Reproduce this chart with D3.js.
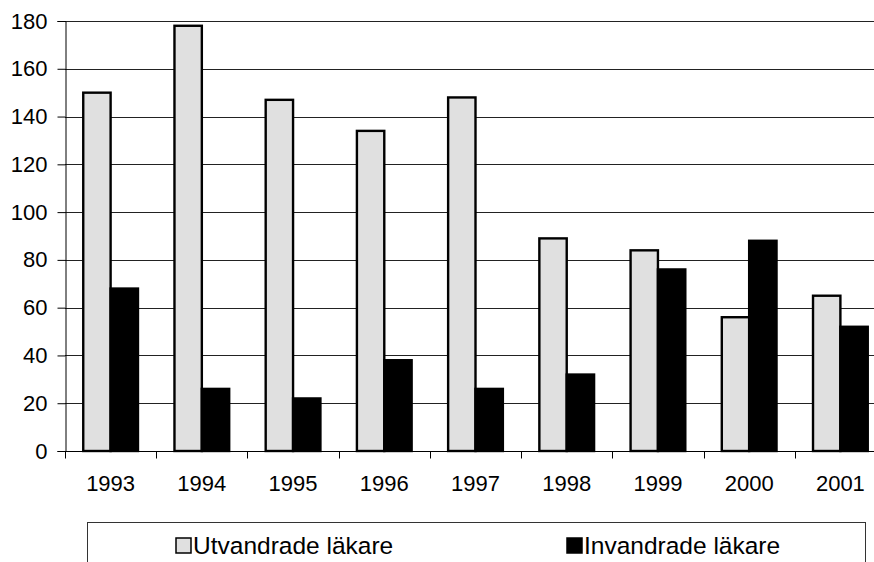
<!DOCTYPE html>
<html>
<head>
<meta charset="utf-8">
<script src="https://cdn.jsdelivr.net/npm/d3@7"></script>
<style>
  html, body { margin: 0; padding: 0; background: #fff; }
  svg { display: block; font-family: "Liberation Sans", Arial, sans-serif; }
</style>
</head>
<body>
<svg id="chart" width="874" height="562"></svg>
<script>
const years = ["1993","1994","1995","1996","1997","1998","1999","2000","2001"];
const seriesNames = ["Utvandrade läkare", "Invandrade läkare"];
const utvandrade = [150, 178, 147, 134, 148, 89, 84, 56, 65];
const invandrade = [68, 26, 22, 38, 26, 32, 76, 88, 52];
const yTicks = [0, 20, 40, 60, 80, 100, 120, 140, 160, 180];
const colors = ["#e0e0e0", "#000000"];

(function () {
const svg = d3.select("#chart");
const W = 874;
const mLeft = 65, mRight = 886, mTop = 21, mBottom = 451;

const x0 = d3.scaleBand().domain(years).range([mLeft, mRight]).paddingInner(0.4).paddingOuter(0.2);
const x1 = d3.scaleBand().domain(seriesNames).range([0, x0.bandwidth()]);
const y = d3.scaleLinear().domain([0, 180]).range([mBottom, mTop]);

// gridlines
svg.append("g").selectAll("line").data(yTicks.filter(d => d > 0)).join("line")
  .attr("x1", mLeft).attr("x2", W)
  .attr("y1", d => Math.round(y(d)) + 0.5).attr("y2", d => Math.round(y(d)) + 0.5)
  .attr("stroke", "#222").attr("stroke-width", 1);

// y axis
const yAxis = svg.append("g").attr("transform", `translate(${mLeft + 0.5},0)`)
  .call(d3.axisLeft(y).tickValues(yTicks).tickSize(8).tickPadding(10).tickFormat(d3.format("d")));
yAxis.select(".domain").attr("stroke", "#000");
yAxis.selectAll(".tick line").attr("stroke", "#000");
yAxis.selectAll("text").attr("font-size", 22).attr("fill", "#000")
  .attr("font-family", "Liberation Sans, Arial, sans-serif");

// bars
const data = years.map((yr, i) => ({ year: yr, values: [utvandrade[i], invandrade[i]] }));
const groups = svg.append("g").selectAll("g").data(data).join("g")
  .attr("transform", d => `translate(${x0(d.year)},0)`);
groups.selectAll("rect").data(d => d.values.map((v, j) => ({ v, name: seriesNames[j], j }))).join("rect")
  .attr("x", d => x1(d.name))
  .attr("y", d => y(d.v))
  .attr("width", x1.bandwidth())
  .attr("height", d => y(0) - y(d.v))
  .attr("fill", d => colors[d.j])
  .attr("stroke", "#000")
  .attr("stroke-width", 2.4);

// x axis
const xg = svg.append("g").attr("transform", `translate(0,${mBottom + 0.5})`);
xg.append("line").attr("x1", mLeft).attr("x2", W).attr("stroke", "#000");
const step = x0.step();
const boundaries = years.map(d => x0(d) - step * 0.2);
xg.selectAll("line.tk").data(boundaries).join("line").attr("class", "tk")
  .attr("x1", d => Math.round(d) + 0.5).attr("x2", d => Math.round(d) + 0.5)
  .attr("y1", 0).attr("y2", 7).attr("stroke", "#000");
xg.selectAll("text").data(years).join("text")
  .attr("x", d => x0(d) + x0.bandwidth() / 2)
  .attr("y", 39)
  .attr("text-anchor", "middle")
  .attr("font-size", 22)
  .attr("fill", "#000")
  .text(d => d);

// legend
const lg = svg.append("g");
lg.append("rect").attr("x", 87.5).attr("y", 522.5).attr("width", 778).attr("height", 60)
  .attr("fill", "#fff").attr("stroke", "#333").attr("stroke-width", 1);
const legendX = [176, 567];
seriesNames.forEach((name, i) => {
  const g = lg.append("g").attr("transform", `translate(${legendX[i]},538)`);
  g.append("rect").attr("x", 0).attr("y", 0).attr("width", 15).attr("height", 15)
    .attr("fill", colors[i]).attr("stroke", "#000").attr("stroke-width", 1.5);
  g.append("text").attr("x", 17).attr("y", 15.5).attr("font-size", 24.5).attr("fill", "#000").text(name);
});
})();
</script>
</body>
</html>
